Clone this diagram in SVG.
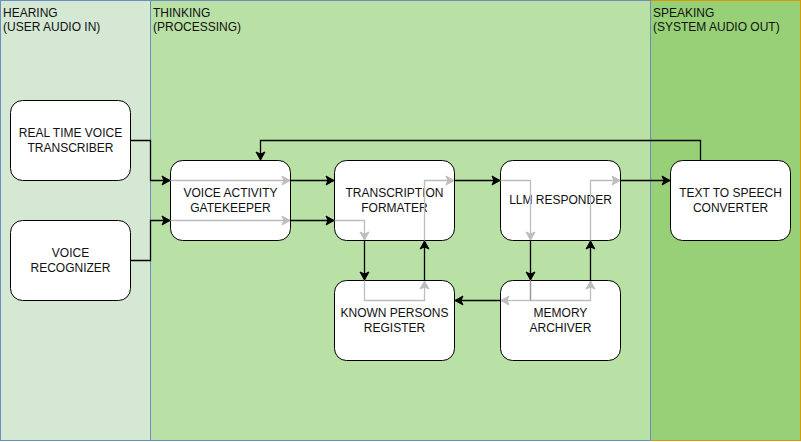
<svg xmlns="http://www.w3.org/2000/svg" width="801" height="442" viewBox="0 0 801 442">
<style>
.lbl{font-family:"Liberation Sans",Arial,sans-serif;font-size:12px;fill:#111}
.nt{font-family:"Liberation Sans",Arial,sans-serif;font-size:12px;fill:#111;text-anchor:middle}
.node{fill:#fff;stroke:#000;stroke-width:1}
.blk{fill:none;stroke:#000;stroke-width:1.3}
.gry{fill:none;stroke:#bdbdbd;stroke-width:1.3}
</style>
<defs>
<marker id="ab" markerUnits="userSpaceOnUse" markerWidth="12" markerHeight="12" viewBox="-10 -6 12 12" refX="0" refY="0" orient="auto">
<path d="M-8,-4.5 L0,0 L-8,4.5 L-6,0 z" fill="#000" stroke="#000" stroke-width="1"/>
</marker>
<marker id="ag" markerUnits="userSpaceOnUse" markerWidth="12" markerHeight="12" viewBox="-10 -6 12 12" refX="0" refY="0" orient="auto">
<path d="M-8,-4.5 L0,0 L-8,4.5 L-6,0 z" fill="#bdbdbd" stroke="#bdbdbd" stroke-width="1"/>
</marker>
</defs>
<g id="panels">
<rect id="hearing" x="0.5" y="0.5" width="150" height="440" fill="#d5e8d4" stroke="#6c8ebf"/>
<rect id="speaking" x="650.5" y="0.5" width="150" height="440" fill="#97d077" stroke="#d79b00"/>
<rect id="thinking" x="150.5" y="0.5" width="500" height="440" fill="#b9e0a5" stroke="#6c8ebf"/>
<text class="lbl" x="3" y="17">HEARING</text>
<text class="lbl" x="3" y="31">(USER AUDIO IN)</text>
<text class="lbl" x="153" y="17">THINKING</text>
<text class="lbl" x="153" y="31">(PROCESSING)</text>
<text class="lbl" x="653" y="17">SPEAKING</text>
<text class="lbl" x="653" y="31">(SYSTEM AUDIO OUT)</text>
</g>
<g id="n-rtvt"><rect class="node" x="10.5" y="100.5" width="120" height="80" rx="12"/><text class="nt" x="70.5" y="137">REAL TIME VOICE</text><text class="nt" x="70.5" y="152">TRANSCRIBER</text></g>
<g id="n-vr"><rect class="node" x="10.5" y="220.5" width="120" height="80" rx="12"/><text class="nt" x="70.5" y="257">VOICE</text><text class="nt" x="70.5" y="272">RECOGNIZER</text></g>
<g id="n-vag"><rect class="node" x="170.5" y="160.5" width="120" height="80" rx="12"/><text class="nt" x="230.5" y="197">VOICE ACTIVITY</text><text class="nt" x="230.5" y="212">GATEKEEPER</text></g>
<g id="n-tf"><rect class="node" x="334.5" y="160.5" width="120" height="80" rx="12"/><text class="nt" x="394.5" y="197">TRANSCRIPTION</text><text class="nt" x="394.5" y="212">FORMATER</text></g>
<g id="n-llm"><rect class="node" x="500.5" y="160.5" width="120" height="80" rx="12"/><text class="nt" x="560.5" y="204">LLM RESPONDER</text></g>
<g id="n-tts"><rect class="node" x="670.5" y="160.5" width="120" height="80" rx="12"/><text class="nt" x="730.5" y="197">TEXT TO SPEECH</text><text class="nt" x="730.5" y="212">CONVERTER</text></g>
<g id="n-kpr"><rect class="node" x="334.5" y="280.5" width="120" height="80" rx="12"/><text class="nt" x="394.5" y="317">KNOWN PERSONS</text><text class="nt" x="394.5" y="332">REGISTER</text></g>
<g id="n-ma"><rect class="node" x="500.5" y="280.5" width="120" height="80" rx="12"/><text class="nt" x="560.5" y="317">MEMORY</text><text class="nt" x="560.5" y="332">ARCHIVER</text></g>
<g id="connectors">
<path class="blk" d="M130.5,140.5 H150.5 V180.5 H170" marker-end="url(#ab)"/>
<path class="blk" d="M130.5,260.5 H150.5 V220.5 H170" marker-end="url(#ab)"/>
<path class="gry" d="M170.5,180.5 H290" marker-end="url(#ag)"/>
<path class="gry" d="M170.5,220.5 H290" marker-end="url(#ag)"/>
<path class="blk" d="M290.5,180.5 H334" marker-end="url(#ab)"/>
<path class="blk" d="M290.5,220.5 H334" marker-end="url(#ab)"/>
<path class="gry" d="M334.5,220.5 H364.5 V240" marker-end="url(#ag)"/>
<path class="blk" d="M364.5,240.5 V280" marker-end="url(#ab)"/>
<path class="gry" d="M364.5,280.5 V300.5 H424.5 V281" marker-end="url(#ag)"/>
<path class="blk" d="M424.5,280.5 V241" marker-end="url(#ab)"/>
<path class="gry" d="M424.5,240.5 V180.5 H454" marker-end="url(#ag)"/>
<path class="blk" d="M454.5,180.5 H500" marker-end="url(#ab)"/>
<path class="gry" d="M500.5,180.5 H530.5 V240" marker-end="url(#ag)"/>
<path class="blk" d="M530.5,240.5 V280" marker-end="url(#ab)"/>
<path class="gry" d="M530.5,280.5 V300.5 H590.5 V281" marker-end="url(#ag)"/>
<path class="gry" d="M530.5,300.5 H501" marker-end="url(#ag)"/>
<path d="M530.5,280.5 V300.5" fill="none" stroke="#999" stroke-width="1.3"/>
<path class="blk" d="M500.5,300.5 H455" marker-end="url(#ab)"/>
<path class="blk" d="M590.5,280.5 V241" marker-end="url(#ab)"/>
<path class="gry" d="M590.5,240.5 V180.5 H620" marker-end="url(#ag)"/>
<path class="blk" d="M620.5,180.5 H670" marker-end="url(#ab)"/>
<path class="blk" d="M700.5,160.5 V140.5 H260.5 V160" marker-end="url(#ab)"/>
</g>
</svg>
